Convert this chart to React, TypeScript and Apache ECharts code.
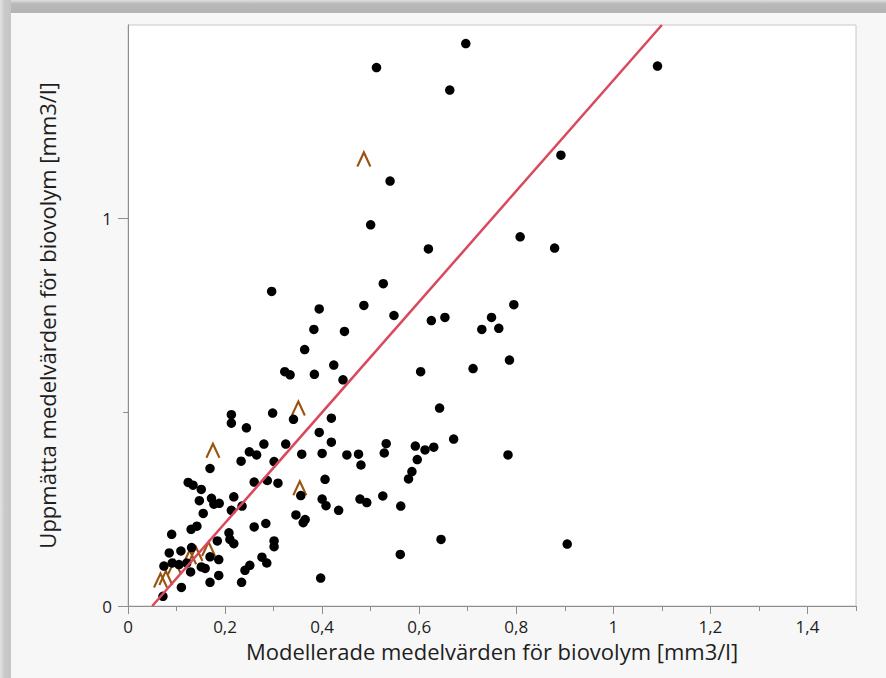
import React, { useEffect, useRef } from "react";
import * as echarts from "echarts";

// Observed (black dots)
const dotX = [
  0.512, 0.696, 0.663, 1.091, 0.892, 0.54, 0.5, 0.808, 0.619, 0.879,
  0.526, 0.296, 0.486, 0.394, 0.548, 0.795, 0.625, 0.653, 0.749, 0.729,
  0.764, 0.383, 0.446, 0.364, 0.786, 0.711, 0.424, 0.384, 0.443, 0.603,
  0.642, 0.419, 0.394, 0.419, 0.532, 0.592, 0.612, 0.63, 0.671, 0.783,
  0.905, 0.528, 0.596, 0.585, 0.578, 0.525, 0.562, 0.645, 0.561, 0.323,
  0.334, 0.213, 0.213, 0.298, 0.244, 0.341, 0.28, 0.325, 0.25, 0.265,
  0.358, 0.4, 0.451, 0.475, 0.48, 0.233, 0.301, 0.169, 0.124, 0.134,
  0.151, 0.26, 0.287, 0.309, 0.406, 0.356, 0.4, 0.408, 0.434, 0.478,
  0.492, 0.147, 0.172, 0.177, 0.188, 0.218, 0.235, 0.213, 0.155, 0.346,
  0.365, 0.361, 0.26, 0.284, 0.09, 0.13, 0.142, 0.208, 0.21, 0.218,
  0.184, 0.301, 0.301, 0.085, 0.109, 0.131, 0.169, 0.187, 0.276, 0.286,
  0.251, 0.241, 0.074, 0.091, 0.105, 0.151, 0.159, 0.129, 0.187, 0.169,
  0.234, 0.397, 0.11, 0.072, 0.121,
];
const dotY = [
  1.39, 1.452, 1.332, 1.394, 1.164, 1.097, 0.984, 0.953, 0.922, 0.924,
  0.832, 0.812, 0.776, 0.767, 0.75, 0.778, 0.737, 0.745, 0.745, 0.714,
  0.717, 0.714, 0.709, 0.662, 0.635, 0.613, 0.622, 0.598, 0.584, 0.605,
  0.511, 0.485, 0.448, 0.423, 0.419, 0.413, 0.403, 0.41, 0.431, 0.39,
  0.16, 0.395, 0.378, 0.347, 0.328, 0.284, 0.258, 0.172, 0.133, 0.605,
  0.597, 0.494, 0.472, 0.498, 0.46, 0.482, 0.418, 0.418, 0.398, 0.39,
  0.392, 0.394, 0.39, 0.392, 0.364, 0.374, 0.373, 0.355, 0.319, 0.312,
  0.301, 0.32, 0.324, 0.317, 0.327, 0.285, 0.276, 0.259, 0.247, 0.276,
  0.267, 0.272, 0.278, 0.263, 0.265, 0.282, 0.258, 0.247, 0.239, 0.235,
  0.223, 0.215, 0.204, 0.213, 0.185, 0.198, 0.206, 0.189, 0.172, 0.161,
  0.168, 0.168, 0.153, 0.137, 0.142, 0.151, 0.127, 0.12, 0.126, 0.111,
  0.105, 0.092, 0.103, 0.111, 0.107, 0.101, 0.097, 0.088, 0.079, 0.061,
  0.061, 0.072, 0.048, 0.025, 0.111,
];

// Censored values (brown caret markers)
const caretX = [0.486, 0.351, 0.175, 0.354, 0.166, 0.14, 0.127, 0.096, 0.078, 0.067];
const caretY = [1.153, 0.51, 0.401, 0.304, 0.147, 0.134, 0.126, 0.1, 0.072, 0.066];

// Fitted line end points
const fitX = [0.05, 1.1];
const fitY = [0, 1.5];

const xMajorTicks = [0, 0.2, 0.4, 0.6, 0.8, 1, 1.2, 1.4];
const xMinorTicks = [0.1, 0.3, 0.5, 0.7, 0.9, 1.1, 1.3, 1.5];
const yMajorTicks = [0, 1];
const yMinorTicks = [0.5];

const xTitle = "Modellerade medelvärden för biovolym [mm3/l]";
const yTitle = "Uppmätta medelvärden för biovolym [mm3/l]";

const FONT = "'Open Sans', 'Noto Sans', sans-serif";
const fmt = (v: number) =>
  Number.isInteger(v) ? String(v) : v.toFixed(1).replace(".", ",");

export default function App() {
  const ref = useRef<HTMLDivElement>(null);
  useEffect(() => {
    if (!ref.current) return;
    const chart = echarts.init(ref.current, undefined, { renderer: "svg" });
    const axisGray = "#8e8e8e";
    const option: any = {
      animation: false,
      backgroundColor: "#f7f7f7",
      textStyle: { fontFamily: FONT },
      graphic: [
        {
          type: "rect",
          shape: { x: 0, y: 0, width: 886, height: 13 },
          style: {
            fill: new echarts.graphic.LinearGradient(0, 0, 0, 1, [
              { offset: 0, color: "#dedede" },
              { offset: 0.3, color: "#b9b9b9" },
              { offset: 1, color: "#b3b3b3" },
            ]),
          },
          silent: true,
          z: -10,
        },
        {
          type: "rect",
          shape: { x: 0, y: 0, width: 11, height: 678 },
          style: {
            fill: new echarts.graphic.LinearGradient(0, 0, 1, 0, [
              { offset: 0, color: "#e2e2e2" },
              { offset: 0.4, color: "#cbcbcb" },
              { offset: 1, color: "#c4c4c4" },
            ]),
          },
          silent: true,
          z: -10,
        },
      ],
      grid: {
        left: 128,
        right: 30,
        top: 25,
        bottom: 72,
        show: true,
        backgroundColor: "#ffffff",
        borderColor: "#c8c8c8",
        borderWidth: 1,
      },
      xAxis: [
        {
          type: "value",
          min: 0,
          max: 1.5,
          position: "bottom",
          splitLine: { show: false },
          axisLine: { show: true, lineStyle: { color: axisGray, width: 1 } },
          axisTick: {
            show: true,
            customValues: xMajorTicks,
            length: 8,
            lineStyle: { color: axisGray },
          },
          axisLabel: {
            customValues: xMajorTicks,
            formatter: fmt,
            fontSize: 17,
            color: "#1e1e1e",
            margin: 12,
            fontFamily: FONT,
          },
          name: xTitle,
          nameLocation: "middle",
          nameGap: 30,
          nameTextStyle: { fontSize: 22, color: "#1e1e1e", fontFamily: FONT },
        },
        {
          type: "value",
          min: 0,
          max: 1.5,
          position: "bottom",
          splitLine: { show: false },
          axisLine: { show: false },
          axisTick: {
            show: true,
            customValues: xMinorTicks,
            length: 5,
            lineStyle: { color: axisGray },
          },
          axisLabel: { show: false },
        },
      ],
      yAxis: [
        {
          type: "value",
          min: 0,
          max: 1.5,
          position: "left",
          splitLine: { show: false },
          axisLine: { show: true, lineStyle: { color: axisGray, width: 1 } },
          axisTick: {
            show: true,
            customValues: yMajorTicks,
            length: 10,
            lineStyle: { color: axisGray },
          },
          axisLabel: {
            customValues: yMajorTicks,
            formatter: fmt,
            fontSize: 17,
            color: "#1e1e1e",
            margin: 16,
            fontFamily: FONT,
          },
          name: yTitle,
          nameLocation: "middle",
          nameGap: 70,
          nameRotate: 90,
          nameTextStyle: { fontSize: 22, color: "#1e1e1e", fontFamily: FONT },
        },
        {
          type: "value",
          min: 0,
          max: 1.5,
          position: "left",
          splitLine: { show: false },
          axisLine: { show: false },
          axisTick: {
            show: true,
            customValues: yMinorTicks,
            length: 5,
            lineStyle: { color: axisGray },
          },
          axisLabel: { show: false },
        },
      ],
      series: [
        {
          type: "scatter",
          xAxisIndex: 0,
          yAxisIndex: 0,
          symbol: "path://M0,12 L6,0 L12,12",
          symbolSize: [13, 14],
          itemStyle: {
            color: "transparent",
            borderColor: "#9a520f",
            borderWidth: 2.2,
            opacity: 1,
          },
          data: caretX.map((x, i) => [x, caretY[i]]),
          z: 2,
        },
        {
          type: "scatter",
          xAxisIndex: 0,
          yAxisIndex: 0,
          symbol: "circle",
          symbolSize: 9.5,
          itemStyle: { color: "#000000", opacity: 1 },
          data: dotX.map((x, i) => [x, dotY[i]]),
          z: 3,
        },
        {
          type: "line",
          xAxisIndex: 0,
          yAxisIndex: 0,
          symbol: "none",
          lineStyle: { color: "#d9495c", width: 2.5 },
          data: fitX.map((x, i) => [x, fitY[i]]),
          z: 4,
          clip: true,
        },
      ],
    };
    chart.setOption(option);
    return () => chart.dispose();
  }, []);
  return (
    <div
      ref={ref}
      style={{ position: "absolute", left: 0, top: 0, width: 886, height: 678 }}
    />
  );
}
